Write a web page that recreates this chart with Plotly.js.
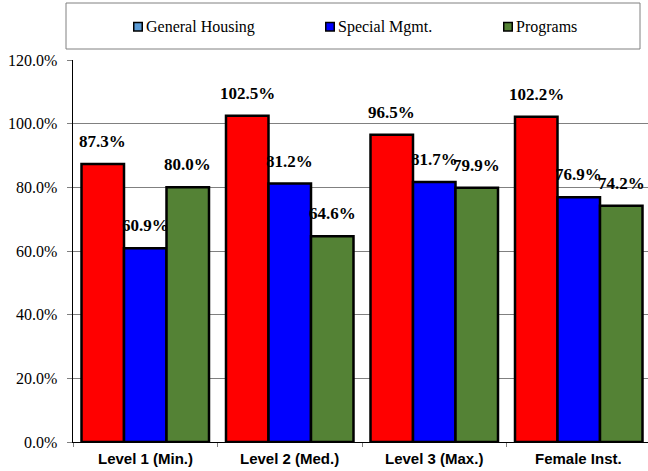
<!DOCTYPE html>
<html>
<head>
<meta charset="utf-8">
<script src="https://cdn.plot.ly/plotly-3.0.1.min.js"></script>
<style>html,body{margin:0;padding:0;background:#fff;}#chart{width:648px;height:471px;}</style>
</head>
<body>
<div id="chart"></div>
<script>
// ---- data ----
var categories = ["Level 1 (Min.)", "Level 2 (Med.)", "Level 3 (Max.)", "Female Inst."];
var seriesNames = ["General Housing", "Special Mgmt.", "Programs"];
var generalHousing = [87.3, 102.5, 96.5, 102.2];
var specialMgmt = [60.9, 81.2, 81.7, 76.9];
var programs = [80.0, 64.6, 79.9, 74.2];
var yTicks = [0, 20, 40, 60, 80, 100, 120];

// ---- styling ----
var SERIF = "'Liberation Serif', 'Times New Roman', Times, serif";
var SANS = "'Liberation Sans', Arial, Helvetica, sans-serif";
var barColors = ["#ff0000", "#0000ff", "#548235"];
var legendColors = ["#5b9bd5", "#0000ff", "#548235"];
var W = 648, H = 471;
var M = {l: 73, r: 0, t: 60, b: 29};
var plotW = W - M.l - M.r, plotH = H - M.t - M.b;
function px(x) { return (x - M.l) / plotW; }
function py(y) { return (H - M.b - y) / plotH; }

var allSeries = [generalHousing, specialMgmt, programs];
var traces = allSeries.map(function (vals, i) {
  return {
    type: "bar",
    name: seriesNames[i],
    x: categories,
    y: vals,
    marker: {color: barColors[i], line: {color: "#000000", width: 2.5}},
    showlegend: false,
    hoverinfo: "x+y"
  };
});

var catStep = 144.5;
var barW = catStep * (1 - 0.1176) / 3;
var annotations = [];
allSeries.forEach(function (vals, i) {
  vals.forEach(function (v, j) {
    annotations.push({
      x: categories[j], y: v, xref: "x", yref: "y",
      xshift: (i - 1) * barW, yshift: 11,
      yanchor: "bottom", xanchor: "center",
      text: "<b>" + v.toFixed(1) + "%</b>", showarrow: false,
      font: {family: SERIF, size: 17, color: "#000"}
    });
  });
});

// y tick labels as annotations (right-aligned left of the ticks)
yTicks.forEach(function (t) {
  annotations.push({
    x: px(59), y: t, xref: "paper", yref: "y",
    xanchor: "right", yanchor: "middle", showarrow: false,
    text: t.toFixed(1) + "%",
    font: {family: SERIF, size: 16, color: "#000"}
  });
});

// x category labels as annotations
categories.forEach(function (c) {
  annotations.push({
    x: c, y: py(459), xref: "x", yref: "paper",
    xanchor: "center", yanchor: "middle", showarrow: false,
    text: "<b>" + c + "</b>",
    font: {family: SANS, size: 15, color: "#000"}
  });
});

// manual legend
var legendMarkerX = [133, 325, 503];
var shapes = [{
  type: "rect", xref: "paper", yref: "paper",
  x0: px(66), x1: px(640), y0: py(49), y1: py(3),
  line: {color: "#808080", width: 1}, fillcolor: "#ffffff", layer: "below"
}];
seriesNames.forEach(function (n, i) {
  var mx = legendMarkerX[i];
  shapes.push({
    type: "rect", xref: "paper", yref: "paper",
    x0: px(mx + 0.75), x1: px(mx + 9.25), y0: py(31), y1: py(22.5),
    line: {color: "#000000", width: 1.5}, fillcolor: legendColors[i]
  });
  annotations.push({
    x: px(mx + 11), y: py(27), xref: "paper", yref: "paper",
    xanchor: "left", yanchor: "middle", showarrow: false, text: n,
    font: {family: SERIF, size: 16, color: "#000"}
  });
});

var layout = {
  width: W, height: H,
  margin: M,
  paper_bgcolor: "#ffffff", plot_bgcolor: "#ffffff",
  barmode: "group", bargap: 0.1176, bargroupgap: 0,
  showlegend: false,
  xaxis: {
    type: "category",
    range: [-0.5, -0.5 + plotW / catStep],
    tickson: "boundaries", ticks: "outside", ticklen: 4, tickcolor: "#808080",
    showline: true, linecolor: "#000000", linewidth: 1,
    showgrid: false, zeroline: false, showticklabels: false
  },
  yaxis: {
    range: [0, 120], tickvals: yTicks, showticklabels: false,
    ticks: "outside", ticklen: 5, tickcolor: "#808080",
    showline: true, linecolor: "#000000", linewidth: 1,
    showgrid: true, gridcolor: "#808080", gridwidth: 1, zeroline: false
  },
  annotations: annotations,
  shapes: shapes
};

Plotly.newPlot("chart", traces, layout, {displayModeBar: false, staticPlot: true});
</script>
</body>
</html>
